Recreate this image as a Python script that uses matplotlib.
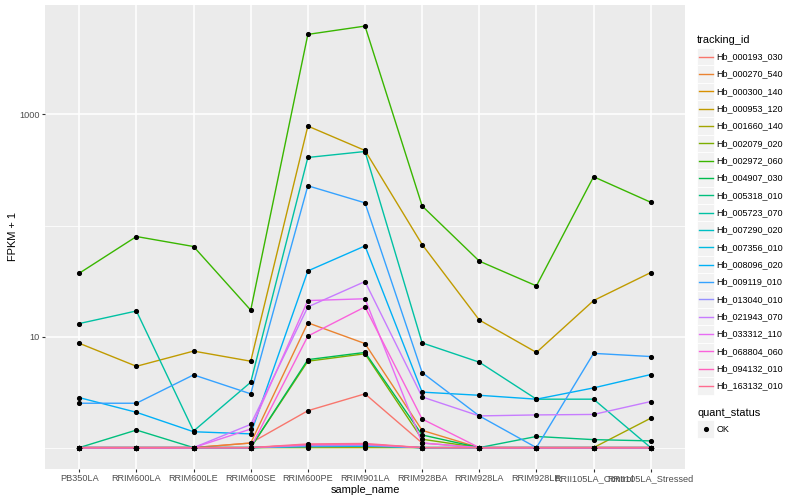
import matplotlib.pyplot as plt
import matplotlib.patches as mpatches
from matplotlib.lines import Line2D
import numpy as np

plt.rcParams['font.family'] = ['Liberation Sans', 'DejaVu Sans']

samples = ['PB350LA', 'RRIM600LA', 'RRIM600LE', 'RRIM600SE', 'RRIM600PE', 'RRIM901LA',
           'RRIM928BA', 'RRIM928LA', 'RRIM928LE', 'RRII105LA_Control', 'RRII105LA_Stressed']

# FPKM values per gene (plotted as FPKM + 1)
Hb_000193_030 = [0, 0, 0, 0.10, 1.15, 2.05, 0.10, 0, 0, 0, 0]
Hb_000270_540 = [0, 0, 0, 0.10, 12.3, 7.65, 0.43, 0, 0, 0, 0]
Hb_000300_140 = [0, 0, 0, 0, 0.06, 0.07, 0, 0, 0, 0, 0]
Hb_000953_120 = [7.7, 4.4, 6.4, 5.0, 785, 473, 66.4, 13.1, 6.2, 20.1, 36.7]
Hb_001660_140 = [0, 0, 0, 0, 0, 0, 0, 0, 0, 0, 0.84]
Hb_002079_020 = [0, 0, 0, 0, 5.0, 6.0, 0.19, 0, 0, 0, 0]
Hb_002972_060 = [36.2, 78.6, 63.7, 16.3, 5260, 6250, 149, 46.8, 27.6, 274, 161]
Hb_004907_030 = [0, 0, 0, 0, 5.2, 6.2, 0.30, 0, 0, 0, 0]
Hb_005318_010 = [0, 0.44, 0, 0, 0.03, 0.04, 0, 0, 0.26, 0.18, 0.15]
Hb_005723_070 = [12.1, 16.0, 0.41, 2.88, 409, 463, 7.77, 4.88, 1.73, 1.73, 0]
Hb_007290_020 = [0, 0, 0, 0, 0.04, 0.05, 0, 0, 0, 0, 0]
Hb_007356_010 = [0, 0, 0, 0, 0.02, 0.03, 0, 0, 0, 0, 0]
Hb_008096_020 = [1.82, 1.08, 0.39, 0.33, 38, 64.5, 2.16, 1.96, 1.73, 2.45, 3.55]
Hb_009119_010 = [1.51, 1.51, 3.52, 2.05, 227, 159, 3.74, 0.93, 0, 6.06, 5.61]
Hb_013040_010 = [0, 0, 0, 0, 0.04, 0.05, 0, 0, 0, 0, 0]
Hb_021943_070 = [0, 0, 0, 0.62, 17.5, 30.3, 1.86, 0.93, 0.97, 0.99, 1.60]
Hb_033312_110 = [0, 0, 0, 0.47, 20.1, 20.9, 0.10, 0, 0, 0, 0]
Hb_068804_060 = [0, 0, 0, 0, 9.1, 17.5, 0.81, 0, 0, 0, 0]
Hb_094132_010 = [0, 0, 0, 0, 0.06, 0.07, 0, 0, 0, 0, 0]
Hb_163132_010 = [0, 0, 0, 0, 0.08, 0.09, 0, 0, 0, 0, 0]

genes = ['Hb_000193_030', 'Hb_000270_540', 'Hb_000300_140', 'Hb_000953_120', 'Hb_001660_140',
         'Hb_002079_020', 'Hb_002972_060', 'Hb_004907_030', 'Hb_005318_010', 'Hb_005723_070',
         'Hb_007290_020', 'Hb_007356_010', 'Hb_008096_020', 'Hb_009119_010', 'Hb_013040_010',
         'Hb_021943_070', 'Hb_033312_110', 'Hb_068804_060', 'Hb_094132_010', 'Hb_163132_010']
values = [Hb_000193_030, Hb_000270_540, Hb_000300_140, Hb_000953_120, Hb_001660_140,
          Hb_002079_020, Hb_002972_060, Hb_004907_030, Hb_005318_010, Hb_005723_070,
          Hb_007290_020, Hb_007356_010, Hb_008096_020, Hb_009119_010, Hb_013040_010,
          Hb_021943_070, Hb_033312_110, Hb_068804_060, Hb_094132_010, Hb_163132_010]

colors = ['#F8766D', '#EA8331', '#D89000', '#C09B00', '#A3A500', '#7CAE00', '#39B600',
          '#00BB4E', '#00BF7D', '#00C1A3', '#00BFC4', '#00BAE0', '#00B0F6', '#35A2FF',
          '#9590FF', '#C77CFF', '#E76BF3', '#FA62DB', '#FF62BC', '#FF6C90']

W, H = 800, 500
fig = plt.figure(figsize=(8, 5), dpi=100)

def fx(x):
    return x / W

def fy(y):
    return 1 - y / H

ax = fig.add_axes([fx(45), fy(468.7), fx(685) - fx(45), fy(5) - fy(468.7)])
ax.set_facecolor('#EBEBEB')
for s in ax.spines.values():
    s.set_visible(False)

x = np.arange(len(samples))
allv = []
for name, v, c in zip(genes, values, colors):
    y = np.array(v) + 1
    allv.extend(y)
    ax.plot(x, y, color=c, lw=1.0, zorder=3)
for v in values:
    ax.plot(x, np.array(v) + 1, 'o', color='black', ms=2.7, mec='black', zorder=4)

ax.set_yscale('log')
lo, hi = np.log10(min(allv)), np.log10(max(allv))
pad = (hi - lo) * 0.05
ax.set_ylim(10 ** (lo - pad), 10 ** (hi + pad))
ax.set_xlim(-0.6, len(samples) - 0.4)

ax.set_yticks([10, 1000])
ax.set_yticklabels(['10', '1000'])
ax.set_yticks([1, 100], minor=True)
ax.yaxis.set_minor_formatter(plt.NullFormatter())
ax.set_xticks(x)
ax.set_xticklabels(samples)

ax.grid(True, which='major', color='white', lw=1.1, zorder=0)
ax.grid(True, which='minor', axis='y', color='white', lw=0.55, zorder=0)
ax.set_axisbelow(True)
ax.tick_params(which='major', length=2.5, width=0.8, color='#333333', labelsize=6.6,
               labelcolor='#4D4D4D', pad=1.5)
ax.tick_params(which='minor', length=0)

ax.set_xlabel('sample_name', fontsize=7.9, labelpad=1.5)
ax.set_ylabel('FPKM + 1', fontsize=7.9, labelpad=1)

# legend (ggplot style)
fig.text(fx(697), fy(40), 'tracking_id', fontsize=7.9, va='center', ha='left')
for i, (name, c) in enumerate(zip(genes, colors)):
    yc = 56.7 + i * 17.33
    fig.patches.append(mpatches.Rectangle((fx(697), fy(yc + 8.6)), fx(17.3), 17.2 / H,
                                          transform=fig.transFigure, facecolor='#F2F2F2',
                                          edgecolor='white', lw=0.6))
    fig.lines.append(Line2D([fx(698.5), fx(712.5)], [fy(yc), fy(yc)], color=c, lw=1.0,
                            transform=fig.transFigure))
    fig.text(fx(716.7), fy(yc), name, fontsize=6.5, va='center', ha='left')

fig.text(fx(697), fy(412.7), 'quant_status', fontsize=7.9, va='center', ha='left')
fig.patches.append(mpatches.Rectangle((fx(697), fy(429 + 8.6)), fx(17.3), 17.2 / H,
                                      transform=fig.transFigure, facecolor='#F2F2F2',
                                      edgecolor='white', lw=0.6))
fig.lines.append(Line2D([fx(705.6)], [fy(429)], marker='o', color='black', ms=2.7,
                        transform=fig.transFigure))
fig.text(fx(716.7), fy(429), 'OK', fontsize=6.5, va='center', ha='left')

fig.savefig('out.png', dpi=100)
